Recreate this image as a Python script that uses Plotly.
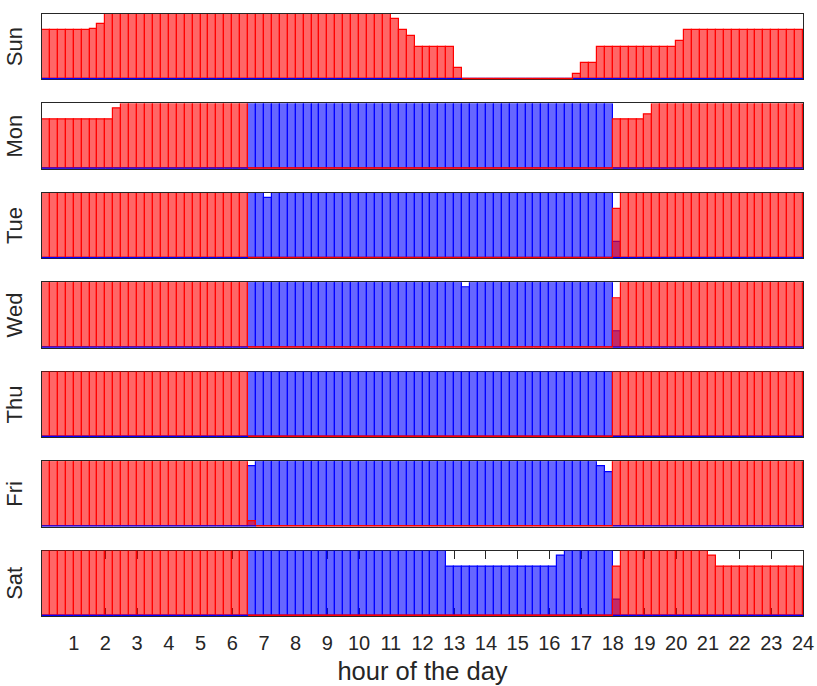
import plotly.graph_objects as go
from plotly.subplots import make_subplots

# Weekly occupancy profile: share of weeks in each 15-minute slot spent
# at home (red) or at work (blue), one panel per weekday.
days = ["Sun", "Mon", "Tue", "Wed", "Thu", "Fri", "Sat"]
hour_ticks = list(range(1, 25))
hour_labels = [str(h) for h in hour_ticks]
slot_hours = [i * 0.25 for i in range(96)]  # start of each 15-min slot

# ---- home share per slot (rows of 12 slots = 3 hours) ----
sun_home = [
    0.75, 0.75, 0.75, 0.75, 0.75, 0.75, 0.765, 0.84, 1, 1, 1, 1,
    1, 1, 1, 1, 1, 1, 1, 1, 1, 1, 1, 1,
    1, 1, 1, 1, 1, 1, 1, 1, 1, 1, 1, 1,
    1, 1, 1, 1, 1, 1, 1, 1, 0.917, 0.75, 0.667, 0.5,
    0.5, 0.5, 0.5, 0.5, 0.167, 0, 0, 0, 0, 0, 0, 0,
    0, 0, 0, 0, 0, 0, 0, 0.083, 0.25, 0.25, 0.5, 0.5,
    0.5, 0.5, 0.5, 0.5, 0.5, 0.5, 0.5, 0.49, 0.583, 0.75, 0.75, 0.75,
    0.75, 0.75, 0.75, 0.75, 0.75, 0.75, 0.75, 0.75, 0.75, 0.75, 0.75, 0.75,
]
mon_home = [
    0.75, 0.75, 0.75, 0.75, 0.75, 0.75, 0.75, 0.75, 0.76, 0.917, 1, 1,
    1, 1, 1, 1, 1, 1, 1, 1, 1, 1, 1, 1,
    1, 1, 0, 0, 0, 0, 0, 0, 0, 0, 0, 0,
    0, 0, 0, 0, 0, 0, 0, 0, 0, 0, 0, 0,
    0, 0, 0, 0, 0, 0, 0, 0, 0, 0, 0, 0,
    0, 0, 0, 0, 0, 0, 0, 0, 0, 0, 0, 0,
    0.75, 0.75, 0.75, 0.76, 0.833, 1, 1, 1, 1, 1, 1, 1,
    1, 1, 1, 1, 1, 1, 1, 1, 1, 1, 1, 1,
]
tue_home = [
    1, 1, 1, 1, 1, 1, 1, 1, 1, 1, 1, 1,
    1, 1, 1, 1, 1, 1, 1, 1, 1, 1, 1, 1,
    1, 1, 0, 0, 0, 0, 0, 0, 0, 0, 0, 0,
    0, 0, 0, 0, 0, 0, 0, 0, 0, 0, 0, 0,
    0, 0, 0, 0, 0, 0, 0, 0, 0, 0, 0, 0,
    0, 0, 0, 0, 0, 0, 0, 0, 0, 0, 0, 0,
    0.75, 1, 1, 1, 1, 1, 1, 1, 1, 1, 1, 1,
    1, 1, 1, 1, 1, 1, 1, 1, 1, 1, 1, 1,
]
wed_home = [
    1, 1, 1, 1, 1, 1, 1, 1, 1, 1, 1, 1,
    1, 1, 1, 1, 1, 1, 1, 1, 1, 1, 1, 1,
    1, 1, 0, 0, 0, 0, 0, 0, 0, 0, 0, 0,
    0, 0, 0, 0, 0, 0, 0, 0, 0, 0, 0, 0,
    0, 0, 0, 0, 0, 0, 0, 0, 0, 0, 0, 0,
    0, 0, 0, 0, 0, 0, 0, 0, 0, 0, 0, 0,
    0.75, 1, 1, 1, 1, 1, 1, 1, 1, 1, 1, 1,
    1, 1, 1, 1, 1, 1, 1, 1, 1, 1, 1, 1,
]
thu_home = [
    1, 1, 1, 1, 1, 1, 1, 1, 1, 1, 1, 1,
    1, 1, 1, 1, 1, 1, 1, 1, 1, 1, 1, 1,
    1, 1, 0, 0, 0, 0, 0, 0, 0, 0, 0, 0,
    0, 0, 0, 0, 0, 0, 0, 0, 0, 0, 0, 0,
    0, 0, 0, 0, 0, 0, 0, 0, 0, 0, 0, 0,
    0, 0, 0, 0, 0, 0, 0, 0, 0, 0, 0, 0,
    1, 1, 1, 1, 1, 1, 1, 1, 1, 1, 1, 1,
    1, 1, 1, 1, 1, 1, 1, 1, 1, 1, 1, 1,
]
fri_home = [
    1, 1, 1, 1, 1, 1, 1, 1, 1, 1, 1, 1,
    1, 1, 1, 1, 1, 1, 1, 1, 1, 1, 1, 1,
    1, 1, 0.083, 0, 0, 0, 0, 0, 0, 0, 0, 0,
    0, 0, 0, 0, 0, 0, 0, 0, 0, 0, 0, 0,
    0, 0, 0, 0, 0, 0, 0, 0, 0, 0, 0, 0,
    0, 0, 0, 0, 0, 0, 0, 0, 0, 0, 0, 0,
    1, 1, 1, 1, 1, 1, 1, 1, 1, 1, 1, 1,
    1, 1, 1, 1, 1, 1, 1, 1, 1, 1, 1, 1,
]
sat_home = [
    1, 1, 1, 1, 1, 1, 1, 1, 1, 1, 1, 1,
    1, 1, 1, 1, 1, 1, 1, 1, 1, 1, 1, 1,
    1, 1, 0, 0, 0, 0, 0, 0, 0, 0, 0, 0,
    0, 0, 0, 0, 0, 0, 0, 0, 0, 0, 0, 0,
    0, 0, 0, 0, 0, 0, 0, 0, 0, 0, 0, 0,
    0, 0, 0, 0, 0, 0, 0, 0, 0, 0, 0, 0,
    0.75, 1, 1, 1, 1, 1, 1, 1, 1, 1, 1, 1,
    0.917, 0.75, 0.75, 0.75, 0.75, 0.75, 0.75, 0.75, 0.75, 0.75, 0.75, 0.75,
]

# ---- work share per slot ----
sun_work = [
    0, 0, 0, 0, 0, 0, 0, 0, 0, 0, 0, 0,
    0, 0, 0, 0, 0, 0, 0, 0, 0, 0, 0, 0,
    0, 0, 0, 0, 0, 0, 0, 0, 0, 0, 0, 0,
    0, 0, 0, 0, 0, 0, 0, 0, 0, 0, 0, 0,
    0, 0, 0, 0, 0, 0, 0, 0, 0, 0, 0, 0,
    0, 0, 0, 0, 0, 0, 0, 0, 0, 0, 0, 0,
    0, 0, 0, 0, 0, 0, 0, 0, 0, 0, 0, 0,
    0, 0, 0, 0, 0, 0, 0, 0, 0, 0, 0, 0,
]
mon_work = [
    0, 0, 0, 0, 0, 0, 0, 0, 0, 0, 0, 0,
    0, 0, 0, 0, 0, 0, 0, 0, 0, 0, 0, 0,
    0, 0, 1, 1, 1, 1, 1, 1, 1, 1, 1, 1,
    1, 1, 1, 1, 1, 1, 1, 1, 1, 1, 1, 1,
    1, 1, 1, 1, 1, 1, 1, 1, 1, 1, 1, 1,
    1, 1, 1, 1, 1, 1, 1, 1, 1, 1, 1, 1,
    0, 0, 0, 0, 0, 0, 0, 0, 0, 0, 0, 0,
    0, 0, 0, 0, 0, 0, 0, 0, 0, 0, 0, 0,
]
tue_work = [
    0, 0, 0, 0, 0, 0, 0, 0, 0, 0, 0, 0,
    0, 0, 0, 0, 0, 0, 0, 0, 0, 0, 0, 0,
    0, 0, 1, 1, 0.917, 1, 1, 1, 1, 1, 1, 1,
    1, 1, 1, 1, 1, 1, 1, 1, 1, 1, 1, 1,
    1, 1, 1, 1, 1, 1, 1, 1, 1, 1, 1, 1,
    1, 1, 1, 1, 1, 1, 1, 1, 1, 1, 1, 1,
    0.25, 0, 0, 0, 0, 0, 0, 0, 0, 0, 0, 0,
    0, 0, 0, 0, 0, 0, 0, 0, 0, 0, 0, 0,
]
wed_work = [
    0, 0, 0, 0, 0, 0, 0, 0, 0, 0, 0, 0,
    0, 0, 0, 0, 0, 0, 0, 0, 0, 0, 0, 0,
    0, 0, 1, 1, 1, 1, 1, 1, 1, 1, 1, 1,
    1, 1, 1, 1, 1, 1, 1, 1, 1, 1, 1, 1,
    1, 1, 1, 1, 1, 0.917, 1, 1, 1, 1, 1, 1,
    1, 1, 1, 1, 1, 1, 1, 1, 1, 1, 1, 1,
    0.25, 0, 0, 0, 0, 0, 0, 0, 0, 0, 0, 0,
    0, 0, 0, 0, 0, 0, 0, 0, 0, 0, 0, 0,
]
thu_work = [
    0, 0, 0, 0, 0, 0, 0, 0, 0, 0, 0, 0,
    0, 0, 0, 0, 0, 0, 0, 0, 0, 0, 0, 0,
    0, 0, 1, 1, 1, 1, 1, 1, 1, 1, 1, 1,
    1, 1, 1, 1, 1, 1, 1, 1, 1, 1, 1, 1,
    1, 1, 1, 1, 1, 1, 1, 1, 1, 1, 1, 1,
    1, 1, 1, 1, 1, 1, 1, 1, 1, 1, 1, 1,
    0, 0, 0, 0, 0, 0, 0, 0, 0, 0, 0, 0,
    0, 0, 0, 0, 0, 0, 0, 0, 0, 0, 0, 0,
]
fri_work = [
    0, 0, 0, 0, 0, 0, 0, 0, 0, 0, 0, 0,
    0, 0, 0, 0, 0, 0, 0, 0, 0, 0, 0, 0,
    0, 0, 0.917, 1, 1, 1, 1, 1, 1, 1, 1, 1,
    1, 1, 1, 1, 1, 1, 1, 1, 1, 1, 1, 1,
    1, 1, 1, 1, 1, 1, 1, 1, 1, 1, 1, 1,
    1, 1, 1, 1, 1, 1, 1, 1, 1, 1, 0.917, 0.833,
    0, 0, 0, 0, 0, 0, 0, 0, 0, 0, 0, 0,
    0, 0, 0, 0, 0, 0, 0, 0, 0, 0, 0, 0,
]
sat_work = [
    0, 0, 0, 0, 0, 0, 0, 0, 0, 0, 0, 0,
    0, 0, 0, 0, 0, 0, 0, 0, 0, 0, 0, 0,
    0, 0, 1, 1, 1, 1, 1, 1, 1, 1, 1, 1,
    1, 1, 1, 1, 1, 1, 1, 1, 1, 1, 1, 1,
    1, 1, 1, 0.75, 0.75, 0.75, 0.75, 0.75, 0.75, 0.75, 0.75, 0.75,
    0.75, 0.75, 0.75, 0.75, 0.75, 0.917, 1, 1, 1, 1, 1, 1,
    0.25, 0, 0, 0, 0, 0, 0, 0, 0, 0, 0, 0,
    0, 0, 0, 0, 0, 0, 0, 0, 0, 0, 0, 0,
]

home_by_day = [sun_home, mon_home, tue_home, wed_home, thu_home, fri_home, sat_home]
work_by_day = [sun_work, mon_work, tue_work, wed_work, thu_work, fri_work, sat_work]

SLOT = 0.25
RED_FILL = "rgba(255,0,0,0.6)"
BLUE_FILL = "rgba(0,0,255,0.6)"
INK = "#262626"
FONT = "Liberation Sans, Arial, Helvetica, sans-serif"

fig = make_subplots(rows=7, cols=1, vertical_spacing=0.0401)

centers = [h + SLOT / 2 for h in slot_hours]

for r, (day, home, work) in enumerate(zip(days, home_by_day, work_by_day), start=1):
    fig.add_trace(go.Bar(
        x=centers, y=work, width=SLOT,
        marker=dict(color=BLUE_FILL, line=dict(color="blue", width=1.2)),
        cliponaxis=False, showlegend=False, hoverinfo="skip",
    ), row=r, col=1)
    fig.add_trace(go.Bar(
        x=centers, y=home, width=SLOT,
        marker=dict(color=RED_FILL, line=dict(color="red", width=1.2)),
        cliponaxis=False, showlegend=False, hoverinfo="skip",
    ), row=r, col=1)

    # baseline edge: blue under home slots, red elsewhere
    bx = {"blue": [], "red": []}
    for h, v in zip(slot_hours, home):
        c = "blue" if v > 0 else "red"
        bx[c] += [h, h + SLOT, None]
    for c, xs in bx.items():
        if xs:
            fig.add_trace(go.Scatter(
                x=xs, y=[0 if x is not None else None for x in xs],
                mode="lines", line=dict(color=c, width=2.5),
                showlegend=False, hoverinfo="skip",
            ), row=r, col=1)

    last = r == len(days)
    fig.update_xaxes(
        range=[0, 24], showgrid=False, zeroline=False,
        showline=True, linecolor=INK, linewidth=1,
        mirror="ticks" if last else True,
        ticks="inside" if last else "", ticklen=8, tickwidth=1, tickcolor=INK,
        tickvals=hour_ticks if last else [], ticktext=hour_labels if last else [],
        showticklabels=last, ticklabelstandoff=9,
        tickfont=dict(family=FONT, size=20, color=INK),
        layer="below traces",
        row=r, col=1,
    )
    fig.update_yaxes(
        range=[0, 1], showgrid=False, zeroline=False,
        showline=True, linecolor=INK, linewidth=1, mirror=True,
        ticks="", showticklabels=False, layer="below traces",
        title=dict(text=day, standoff=12, font=dict(family=FONT, size=22, color=INK)),
        row=r, col=1,
    )

fig.update_xaxes(
    title=dict(text="hour of the day", standoff=9,
               font=dict(family=FONT, size=25.5, color=INK)),
    row=7, col=1,
)

fig.update_layout(
    width=817, height=686,
    margin=dict(l=42, r=14, t=14, b=70, autoexpand=False),
    barmode="overlay", bargap=0,
    plot_bgcolor="white", paper_bgcolor="white",
    font=dict(family=FONT, color=INK),
)

fig.write_html("out.html")
